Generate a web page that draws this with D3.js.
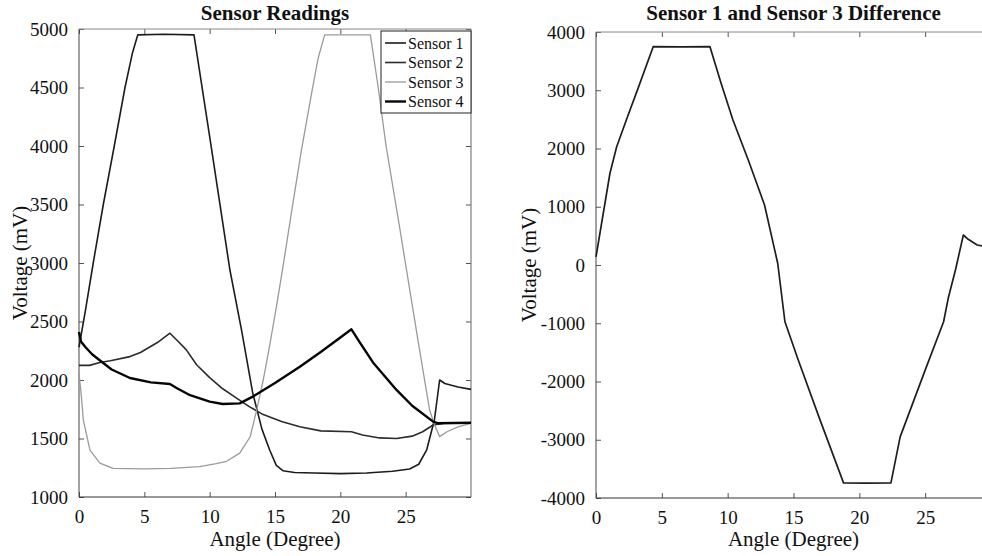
<!DOCTYPE html>
<html>
<head>
<meta charset="utf-8">
<script src="https://cdn.jsdelivr.net/npm/d3@7"></script>
<style>
  body { margin: 0; background: #fff; }
  svg { display: block; font-family: "Liberation Serif", "Times New Roman", serif; }
</style>
</head>
<body>
<div id="chart"></div>
<script>
// readings, [angle (degree), voltage (mV)]
var sensor1 = [[0, 2280], [0.5, 2600], [1.09, 3000], [1.86, 3500], [2.7, 4000], [3.52, 4500], [4.1, 4800], [4.5, 4950],
  [6.5, 4955], [8.8, 4950], [10, 4080], [11.55, 2940], [12.44, 2427], [13.3, 1886], [14.0, 1580], [14.6, 1400],
  [15.1, 1270], [15.6, 1225], [16.5, 1210], [18, 1205], [20, 1200], [22, 1205], [24, 1220], [25.3, 1240],
  [26.0, 1280], [26.6, 1400], [27.2, 1658], [27.6, 2000], [28.0, 1970], [29, 1940], [30, 1920]];
var sensor2 = [[0, 2125], [0.8, 2125], [1.6, 2150], [2.4, 2165], [3.9, 2200], [4.7, 2235], [6, 2320], [6.96, 2400],
  [7.5, 2340], [8.2, 2260], [9, 2130], [10, 2020], [11, 1925], [12, 1850], [13, 1775], [14, 1710], [15.5, 1645],
  [16.9, 1600], [18.5, 1565], [20.85, 1558], [21.7, 1530], [23, 1505], [24.3, 1500], [25.5, 1520], [26.3, 1558],
  [27.1, 1615], [28, 1630], [30, 1630]];
var sensor3 = [[0, 2050], [0.15, 1900], [0.33, 1660], [0.84, 1400], [1.6, 1290], [2.6, 1245], [5, 1240], [7, 1245],
  [9.25, 1260], [10.5, 1285], [11.3, 1305], [12.3, 1375], [13.1, 1515], [13.6, 1744], [14.1, 2000], [14.6, 2300],
  [15.1, 2620], [15.6, 2960], [16.3, 3460], [17.0, 3950], [17.8, 4450], [18.3, 4750], [18.8, 4950], [22.3, 4950],
  [22.9, 4500], [23.5, 4000], [24.5, 3330], [25.4, 2710], [26.0, 2300], [26.83, 1744], [27.2, 1620], [27.6, 1516],
  [28.2, 1560], [29, 1600], [30, 1630]];
var sensor4 = [[0, 2410], [0.15, 2330], [0.5, 2280], [1.0, 2220], [1.73, 2156], [2.5, 2090], [3.9, 2017], [5.5, 1980],
  [6.96, 1966], [7.5, 1930], [8.5, 1870], [10, 1815], [11, 1795], [12.3, 1800], [13.3, 1858], [15, 1975],
  [16.9, 2114], [18.5, 2240], [19.95, 2359], [20.85, 2433], [21.5, 2320], [22.5, 2150], [24.3, 1915], [25.5, 1780],
  [27.1, 1644], [27.5, 1630], [30, 1635]];
var difference = [[0, 140], [1.06, 1575], [1.57, 2030], [2.4, 2550], [3.2, 3036], [4.35, 3750], [6.5, 3745],
  [8.65, 3750], [9.5, 3120], [10.4, 2490], [11.6, 1780], [12.8, 1030], [13.8, 30], [14.35, -974], [15.36, -1632],
  [17, -2650], [18.8, -3740], [20.5, -3745], [22.4, -3740], [23.1, -2950], [25, -1804], [26.4, -974],
  [26.75, -572], [27.3, -86], [27.9, 515], [28.27, 441], [28.95, 343], [30, 300]];

var seriesNames = ["Sensor 1", "Sensor 2", "Sensor 3", "Sensor 4"];
var xTicks = [0, 5, 10, 15, 20, 25];
var yTicksLeft = [1000, 1500, 2000, 2500, 3000, 3500, 4000, 4500, 5000];
var yTicksRight = [-4000, -3000, -2000, -1000, 0, 1000, 2000, 3000, 4000];

var seriesColor = ["#1c1c1c", "#2b2b2b", "#9a9a9a", "#050505"];
var seriesWidth = [1.6, 1.6, 1.3, 2.4];

var svg = d3.select("#chart")
  .append("svg")
  .attr("width", 982)
  .attr("height", 556);

// plain hyphen for negatives, like the original
var fmt = function (d) { return String(d); };

// draws one matlab style box with inward ticks on all sides
function drawAxes(x, y, yTicks, title, labelOffset) {
  var x0 = x.range()[0], x1 = x.range()[1];
  var y0 = y.range()[0], y1 = y.range()[1];
  var g = svg.append("g");

  g.append("g")
    .attr("transform", "translate(0," + y0 + ")")
    .call(d3.axisBottom(x).tickValues(xTicks).tickSize(-5).tickPadding(13).tickFormat(fmt))
    .call(function (a) { a.select(".domain").remove(); });
  g.append("g")
    .attr("transform", "translate(0," + y1 + ")")
    .call(d3.axisTop(x).tickValues(xTicks).tickSize(-5).tickFormat(""))
    .call(function (a) { a.select(".domain").remove(); });
  g.append("g")
    .attr("transform", "translate(" + x0 + ",0)")
    .call(d3.axisLeft(y).tickValues(yTicks).tickSize(-5).tickPadding(11).tickFormat(fmt))
    .call(function (a) { a.select(".domain").remove(); });
  g.append("g")
    .attr("transform", "translate(" + x1 + ",0)")
    .call(d3.axisRight(y).tickValues(yTicks).tickSize(-5).tickFormat(""))
    .call(function (a) { a.select(".domain").remove(); });

  g.selectAll(".tick line").attr("stroke", "#555");
  g.selectAll(".tick text")
    .attr("fill", "#111")
    .style("font-family", "Liberation Serif, serif")
    .style("font-size", "19px");

  // box
  g.append("line").attr("x1", x0).attr("x2", x1).attr("y1", y0).attr("y2", y0).attr("stroke", "#333");
  g.append("line").attr("x1", x0).attr("x2", x0).attr("y1", y0).attr("y2", y1).attr("stroke", "#444");
  g.append("line").attr("x1", x0).attr("x2", x1).attr("y1", y1).attr("y2", y1).attr("stroke", "#888");
  g.append("line").attr("x1", x1).attr("x2", x1).attr("y1", y0).attr("y2", y1).attr("stroke", "#666");

  // titles
  svg.append("text")
    .attr("x", (x0 + x1) / 2)
    .attr("y", 20)
    .attr("text-anchor", "middle")
    .style("font-size", "21px")
    .style("font-weight", "bold")
    .attr("fill", "#111")
    .text(title);
  svg.append("text")
    .attr("x", (x0 + x1) / 2)
    .attr("y", 546)
    .attr("text-anchor", "middle")
    .style("font-size", "21px")
    .attr("fill", "#111")
    .text("Angle (Degree)");
  svg.append("text")
    .attr("transform", "translate(" + (x0 - labelOffset) + "," + ((y0 + y1) / 2) + ") rotate(-90)")
    .attr("text-anchor", "middle")
    .style("font-size", "21px")
    .attr("fill", "#111")
    .text("Voltage (mV)");
}

// left panel
var xL = d3.scaleLinear().domain([0, 30]).range([79, 471]);
var yL = d3.scaleLinear().domain([1000, 5000]).range([497, 29]);
drawAxes(xL, yL, yTicksLeft, "Sensor Readings", 52);

var lineL = d3.line()
  .x(function (d) { return xL(d[0]); })
  .y(function (d) { return yL(d[1]); });

var allSensors = [sensor1, sensor2, sensor3, sensor4];
svg.append("g")
  .selectAll("path")
  .data(allSensors)
  .enter()
  .append("path")
  .attr("d", lineL)
  .attr("fill", "none")
  .attr("stroke", function (d, i) { return seriesColor[i]; })
  .attr("stroke-width", function (d, i) { return seriesWidth[i]; })
  .attr("stroke-linejoin", "round");

// legend
var legend = svg.append("g");
legend.append("rect")
  .attr("x", 381).attr("y", 31)
  .attr("width", 90).attr("height", 82)
  .attr("fill", "#fff")
  .attr("stroke", "#222");
var rows = legend.selectAll("g.row")
  .data(seriesNames)
  .enter()
  .append("g")
  .attr("class", "row")
  .attr("transform", function (d, i) { return "translate(0," + (43 + i * 19.5) + ")"; });
rows.append("line")
  .attr("x1", 385).attr("x2", 406)
  .attr("stroke", function (d, i) { return seriesColor[i]; })
  .attr("stroke-width", function (d, i) { return seriesWidth[i]; });
rows.append("text")
  .attr("x", 408)
  .attr("dy", "0.35em")
  .style("font-size", "16px")
  .attr("fill", "#111")
  .text(function (d) { return d; });

// right panel
var xR = d3.scaleLinear().domain([0, 30]).range([596, 991]);
var yR = d3.scaleLinear().domain([-4000, 4000]).range([498, 32]);
drawAxes(xR, yR, yTicksRight, "Sensor 1 and Sensor 3 Difference", 60);

var lineR = d3.line()
  .x(function (d) { return xR(d[0]); })
  .y(function (d) { return yR(d[1]); });

svg.append("path")
  .datum(difference)
  .attr("d", lineR)
  .attr("fill", "none")
  .attr("stroke", "#1e1e1e")
  .attr("stroke-width", 1.7)
  .attr("stroke-linejoin", "round");
</script>
</body>
</html>
